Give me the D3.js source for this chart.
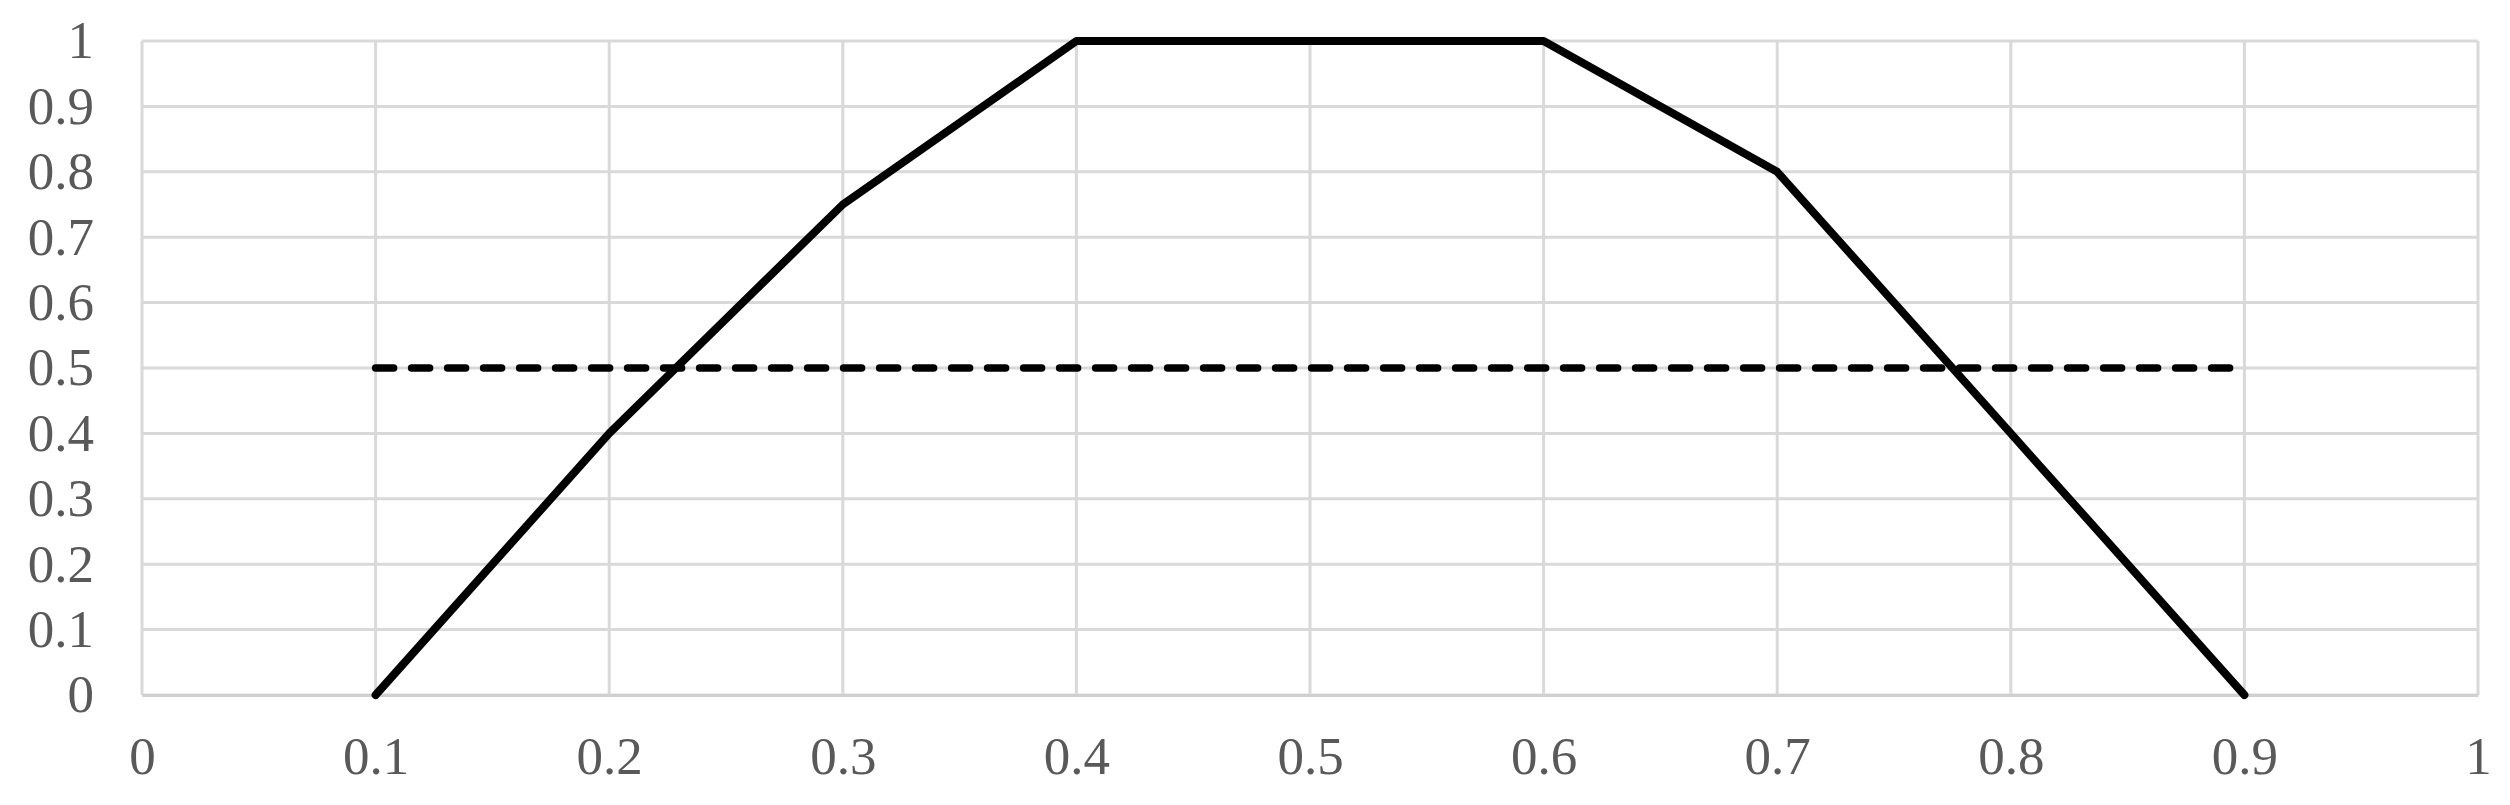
<!DOCTYPE html>
<html>
<head>
<meta charset="utf-8">
<script src="https://cdn.jsdelivr.net/npm/d3@7"></script>
<style>
  body { margin: 0; background: #fff; }
  svg { display: block; }
  text { font-family: "Liberation Serif", "Times New Roman", serif; fill: #595959; }
</style>
</head>
<body>
<svg id="chart" width="2510" height="805"></svg>
<script>
// data
var xValues = [0.1, 0.2, 0.3, 0.4, 0.5, 0.6, 0.7, 0.8, 0.9]
var solidValues = [0, 0.4, 0.75, 1, 1, 1, 0.8, 0.4, 0]
var dashedValues = [0.5, 0.5, 0.5, 0.5, 0.5, 0.5, 0.5, 0.5, 0.5]
var xTicks = [0, 0.1, 0.2, 0.3, 0.4, 0.5, 0.6, 0.7, 0.8, 0.9, 1]
var yTicks = [0, 0.1, 0.2, 0.3, 0.4, 0.5, 0.6, 0.7, 0.8, 0.9, 1]

var svg = d3.select('#chart')
var margin = { left: 142, right: 32, top: 41, bottom: 110 }
var width = 2510 - margin.left - margin.right
var height = 805 - margin.top - margin.bottom

var x = d3.scaleLinear().domain([0, 1]).range([0, width])
var y = d3.scaleLinear().domain([0, 1]).range([height, 0])

var g = svg.append('g')
        .attr('transform', 'translate(' + margin.left + ',' + margin.top + ')')

// grid
g.append('g').selectAll('line.h')
        .data(yTicks)
        .enter().append('line')
        .attr('x1', 0).attr('x2', width)
        .attr('y1', function (d) { return y(d) })
        .attr('y2', function (d) { return y(d) })
        .attr('stroke', '#d9d9d9')
        .attr('stroke-width', 3)

g.append('g').selectAll('line.v')
        .data(xTicks)
        .enter().append('line')
        .attr('y1', 0).attr('y2', height)
        .attr('x1', function (d) { return x(d) })
        .attr('x2', function (d) { return x(d) })
        .attr('stroke', '#d9d9d9')
        .attr('stroke-width', 3)

// axes (labels only)
var fmt = function (d) { return d3.format('')(+d.toFixed(1)) }

var xAxis = g.append('g')
        .attr('transform', 'translate(0,' + height + ')')
        .call(d3.axisBottom(x).tickValues(xTicks).tickFormat(fmt).tickSize(0).tickPadding(41))
xAxis.select('.domain').attr('stroke', '#d0d0d0').attr('stroke-width', 3)

var yAxis = g.append('g')
        .call(d3.axisLeft(y).tickValues(yTicks).tickFormat(fmt).tickSize(0).tickPadding(48))
yAxis.select('.domain').remove()

svg.selectAll('.tick text')
        .attr('font-family', '"Liberation Serif", "Times New Roman", serif')
        .attr('font-size', 53)
        .attr('fill', '#555555')

// series
var pts = function (vals) {
        return xValues.map(function (d, i) { return [d, vals[i]] })
}
var line = d3.line()
        .x(function (d) { return x(d[0]) })
        .y(function (d) { return y(d[1]) })

g.append('path')
        .datum(pts(dashedValues))
        .attr('d', line)
        .attr('fill', 'none')
        .attr('stroke', '#000')
        .attr('stroke-width', 7.5)
        .attr('stroke-linecap', 'round')
        .attr('stroke-dasharray', '18,18')

g.append('path')
        .datum(pts(solidValues))
        .attr('d', line)
        .attr('fill', 'none')
        .attr('stroke', '#000')
        .attr('stroke-width', 8)
        .attr('stroke-linejoin', 'round')
        .attr('stroke-linecap', 'round')
</script>
</body>
</html>
